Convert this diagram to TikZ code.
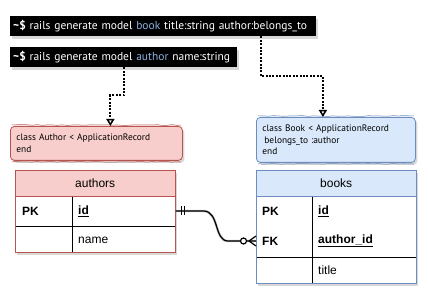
\documentclass[tikz,border=0pt]{standalone}
\usepackage{fontspec}
\setmainfont{Liberation Sans}
\newfontfamily\termfont{PT Sans}
\usetikzlibrary{arrows.meta,shadows,decorations.pathmorphing}

\definecolor{authorfill}{HTML}{F8CECC}
\definecolor{authorline}{HTML}{B85450}
\definecolor{bookfill}{HTML}{DAE8FC}
\definecolor{bookline}{HTML}{6C8EBF}
\definecolor{railsword}{HTML}{8FB0E0}

\tikzset{
  softshadow/.style={drop shadow={opacity=0.3, shadow xshift=2pt, shadow yshift=-2.5pt}},
  terminal/.style={fill=black, text=white, anchor=north west, inner xsep=3pt, inner ysep=0pt,
    minimum height=20pt, align=left, font=\termfont\fontsize{11.5}{13}\selectfont, softshadow},
  classbox/.style={draw=#1line, fill=#1fill, line width=0.8pt, rounded corners=4pt,
    anchor=north west, inner xsep=6pt, align=left,
    font=\termfont\fontsize{9.4}{11.5}\selectfont, softshadow},
  sketch/.style={draw=#1line, line width=0.5pt,
    decoration={random steps, segment length=5pt, amplitude=0.4pt}, decorate},
  tablehead/.style={draw=#1line, fill=#1fill, anchor=north west, minimum width=160pt,
    minimum height=26pt, inner sep=0pt, font=\fontsize{12}{14}\selectfont, softshadow},
  tablebody/.style={draw=#1line, fill=white, anchor=north west, minimum width=160pt,
    inner sep=0pt, softshadow},
  keytext/.style={anchor=west, inner sep=0pt, font=\bfseries\fontsize{12}{14}\selectfont},
  fieldtext/.style={anchor=west, inner sep=0pt, font=\fontsize{12}{14}\selectfont},
  cellline/.style={draw=black, line width=0.8pt},
  dotlink/.style={line width=2pt, dash pattern=on 2pt off 1.4pt,
    -{Triangle[open, length=7pt, width=8pt, line width=1.5pt]}},
  relation/.style={line width=1.2pt},
}

\begin{document}
\begin{tikzpicture}[x=1pt,y=-1pt]
\fill[white] (0,0) rectangle (428,296);
\useasboundingbox (0,0) rectangle (428,296);

% generator commands
\node[terminal, text width=300pt] (term-book) at (10,16)
  {\textbf{\textasciitilde\$} rails generate model \textcolor{railsword}{book} title:string author:belongs\_to};
\node[terminal, text width=221pt] (term-author) at (10,47)
  {\textbf{\textasciitilde\$} rails generate model \textcolor{railsword}{author} name:string};

% generated models
\node[classbox=author, text width=160pt, minimum height=34pt] (cls-author) at (10,126)
  {class Author < ApplicationRecord\\end};
\draw[sketch=author] ([shift={(2,-1)}]cls-author.north west) -- ([shift={(-2,-1)}]cls-author.north east);
\draw[sketch=author] ([shift={(2,1)}]cls-author.south west) -- ([shift={(-2,1)}]cls-author.south east);
\node[classbox=book, text width=147pt, minimum height=45pt] (cls-book) at (256,117)
  {class Book < ApplicationRecord\\\hspace*{2pt}belongs\_to :author\\end};
\draw[sketch=book] ([shift={(2,-1)}]cls-book.north west) -- ([shift={(-2,-1)}]cls-book.north east);
\draw[sketch=book] ([shift={(2,1)}]cls-book.south west) -- ([shift={(-2,1)}]cls-book.south east);

\draw[dotlink] (term-author.south) -- ++(0,28) -| ([xshift=14pt]cls-author.north);
\draw[dotlink] ([xshift=-55pt]term-book.south east) -- ++(0,40) -| ([xshift=-13pt]cls-book.north);

% authors table
\node[tablehead=author] (authors-head) at (15,170) {authors};
\node[tablebody=author, minimum height=56pt] (authors-body) at (15,196) {};
\draw[cellline] (72,196) -- (72,252);
\draw[cellline] (15,226) -- (175,226);
\draw[authorline, line width=0.8pt] (authors-body.north west) rectangle (authors-body.south east);
\node[keytext] (a-pk) at (22,211) {PK};
\node[fieldtext, font=\bfseries\fontsize{12}{14}\selectfont] (a-id) at (78,211) {\underline{id}};
\node[fieldtext] (a-name) at (78,240) {name};

% books table
\node[tablehead=book] (books-head) at (256,170) {books};
\node[tablebody=book, minimum height=87pt] (books-body) at (256,196) {};
\draw[cellline] (312,196) -- (312,283);
\draw[cellline] (256,257) -- (416,257);
\draw[bookline, line width=0.8pt] (books-body.north west) rectangle (books-body.south east);
\node[keytext] (b-pk) at (262,211) {PK};
\node[fieldtext, font=\bfseries\fontsize{12}{14}\selectfont] (b-id) at (318,211) {\underline{id}};
\node[keytext] (b-fk) at (262,241) {FK};
\node[fieldtext, font=\bfseries\fontsize{12}{14}\selectfont] (b-author) at (318,241) {\underline{author\_id}};
\node[fieldtext] (b-title) at (318,270) {title};

% one author has many books
\coordinate (one) at (authors-body.east |- a-pk.center);
\coordinate (many) at (books-body.west |- b-fk.center);
\draw[relation, black!25, line width=2.4pt, shift={(1,1.5)}]
  (one) -- ++(28,0) .. controls ++(16,0) and ++(-14,0) .. ([xshift=-28pt]many) -- (many);
\draw[relation] (one) -- ++(28,0) .. controls ++(16,0) and ++(-14,0) .. ([xshift=-28pt]many) -- (many);
\draw[relation] ([xshift=6pt]one) ++(0,-4.5) -- ++(0,9);
\draw[relation] ([xshift=9pt]one) ++(0,-4.5) -- ++(0,9);
\draw[relation, fill=white] ([xshift=-12.5pt]many) circle (3pt);
\draw[relation] ([xshift=-7pt]many) -- ++(7,-5);
\draw[relation] ([xshift=-7pt]many) -- ++(7,5);
\end{tikzpicture}
\end{document}
